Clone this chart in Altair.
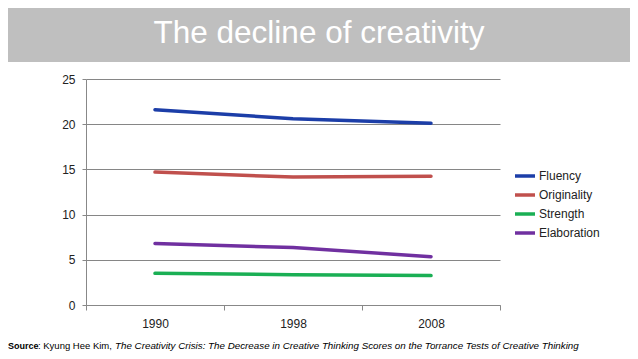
import altair as alt
import pandas as pd

years = ["1990", "1998", "2008"]
series = ["Fluency", "Originality", "Strength", "Elaboration"]
fluency = [21.6, 20.6, 20.1]
originality = [14.7, 14.15, 14.25]
strength = [3.5, 3.35, 3.25]
elaboration = [6.8, 6.35, 5.35]
colors = ["#1c3ea8", "#c0504d", "#1aaf54", "#7030a0"]
y_ticks = [0, 5, 10, 15, 20, 25]
title_text = "The decline of creativity"
src_bold = "Source"
src_regular = ": Kyung Hee Kim,"
src_italic = "The Creativity Crisis: The Decrease in Creative Thinking Scores on the Torrance Tests of Creative Thinking"

FONT = "Liberation Sans"

rows = []
for name, vals in zip(series, [fluency, originality, strength, elaboration]):
    for yr, v in zip(years, vals):
        rows.append({"year": yr, "series": name, "value": v})
df = pd.DataFrame(rows)

one = pd.DataFrame({"k": [0]})

band = alt.Chart(one).mark_rect(color="#bfbfbf").encode(
    x=alt.value(-78), x2=alt.value(544), y=alt.value(-71), y2=alt.value(-17)
)
title = alt.Chart(one).mark_text(
    text=title_text, font=FONT, fontSize=31.5, color="white", align="center", baseline="alphabetic"
).encode(x=alt.value(233), y=alt.value(-36))

lines = alt.Chart(df).mark_line(strokeWidth=3.5, strokeCap="round", strokeJoin="round").encode(
    x=alt.X("year:O", bandPosition=0.5,
            scale=alt.Scale(type="band", paddingInner=0, paddingOuter=0),
            axis=alt.Axis(title=None, labelAngle=0, tickBand="extent", domainColor="#888888",
                          tickColor="#888888", tickSize=5, labelFontSize=12, labelPadding=8,
                          labelColor="#222222", labelFont=FONT, grid=False)),
    y=alt.Y("value:Q", scale=alt.Scale(domain=[0, 25], nice=False),
            axis=alt.Axis(values=y_ticks, title=None, gridColor="#868686", domainColor="#888888",
                          tickColor="#888888", tickSize=4, labelFontSize=12, labelPadding=7,
                          labelColor="#222222", labelFont=FONT)),
    color=alt.Color("series:N", scale=alt.Scale(domain=series, range=colors),
                    legend=alt.Legend(title=None, orient="none", legendX=427, legendY=87.5,
                                      symbolType="stroke", symbolSize=400, symbolStrokeWidth=3.5,
                                      labelFontSize=12, labelFont=FONT, labelColor="#222222",
                                      labelOffset=2, clipHeight=19, rowPadding=0, padding=0)),
)

s1 = alt.Chart(one).mark_text(text=src_bold, font=FONT, fontSize=9, fontWeight="bold",
                              color="black", align="left", baseline="alphabetic").encode(
    x=alt.value(-78), y=alt.value(270))
s2 = alt.Chart(one).mark_text(text=src_regular, font=FONT, fontSize=9.5,
                              color="black", align="left", baseline="alphabetic").encode(
    x=alt.value(-48), y=alt.value(270))
s3 = alt.Chart(one).mark_text(text=src_italic, font=FONT, fontSize=9.8, fontStyle="italic",
                              color="black", align="left", baseline="alphabetic").encode(
    x=alt.value(29), y=alt.value(270))

chart = alt.layer(band, title, lines, s1, s2, s3).properties(
    width=414, height=226,
    padding={"left": 78, "top": 71, "right": 130, "bottom": 46},
    autosize=alt.AutoSizeParams(type="none"),
).configure_view(stroke=None)

chart.save("out.html", embed_options={"renderer": "svg", "actions": False})
